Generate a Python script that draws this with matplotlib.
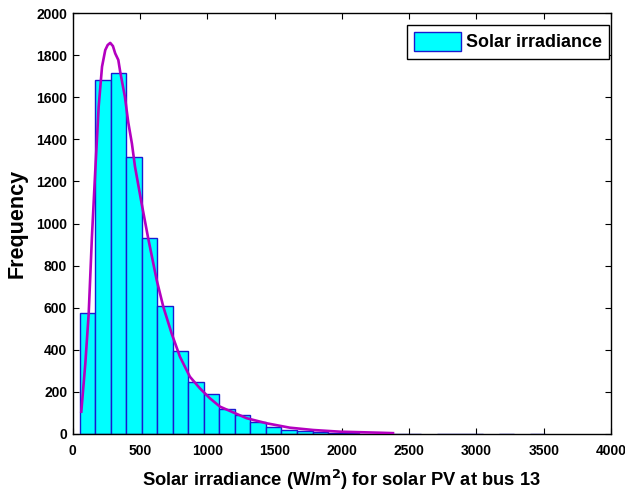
import matplotlib.pyplot as plt
import numpy as np

# histogram of hourly irradiance samples: 30 equal bins over the sample range
bin_lo, bin_hi = 54.0, 3510.0
counts = [577, 1683, 1715, 1317, 931, 609, 392, 249, 190, 117,
          90, 58, 35, 19, 14, 8, 4, 3, 2, 2,
          1, 1, 0, 1, 1, 1, 0, 1, 0, 1]

# fitted density curve (scaled to counts)
fit_x = [64, 94, 119, 143, 168, 193, 218, 242, 260, 279, 299, 316, 339, 353,
         388, 413, 440, 463, 512, 561, 624, 673, 735, 797, 871, 945, 1019,
         1094, 1292, 1440, 1613, 1786, 1984, 2281, 2380]
fit_y = [106, 336, 573, 937, 1254, 1555, 1745, 1824, 1848, 1858, 1843, 1808,
         1777, 1721, 1602, 1480, 1380, 1270, 1096, 930, 732, 605, 478, 367,
         272, 217, 170, 130, 75, 51, 30, 19, 11, 6, 4]

xticks = np.arange(0, 4001, 500)
yticks = np.arange(0, 2001, 200)

font = ["Liberation Sans", "DejaVu Sans"]

fig = plt.figure(figsize=(6.25, 4.93), dpi=100)
ax = fig.add_axes([0.1163, 0.1197, 0.8613, 0.8539])

edges = np.linspace(bin_lo, bin_hi, len(counts) + 1)
width = edges[1] - edges[0]
counts = np.asarray(counts)
keep = counts > 0
ax.bar(edges[:-1][keep], counts[keep], width=width, align="edge",
       color="#00ffff", edgecolor="#1a1ad0", linewidth=1.0,
       label="Solar irradiance", zorder=2)
ax.plot(fit_x, fit_y, color="#b400c0", linewidth=1.9, zorder=3)

ax.set_xlim(0, 4000)
ax.set_ylim(0, 2000)
ax.set_xticks(xticks)
ax.set_yticks(yticks)
ax.tick_params(direction="in", length=4, width=0.8, top=True, right=True,
               labelsize=10, pad=4)
ax.tick_params(axis="x", pad=7)
for lab in ax.get_xticklabels() + ax.get_yticklabels():
    lab.set_family(font)
    lab.set_fontweight("bold")
for sp in ax.spines.values():
    sp.set_linewidth(1.0)

ax.set_xlabel("Solar irradiance (W/m$^\\mathbf{2}$) for solar PV at bus 13",
              fontsize=13.2, fontweight="bold", family=font, labelpad=7)
ax.set_ylabel("Frequency", fontsize=15.5, fontweight="bold", family=font,
              labelpad=6)

leg = ax.legend(loc="upper right", bbox_to_anchor=(0.9968, 0.9715),
                borderaxespad=0, fancybox=False, framealpha=1,
                edgecolor="black", handlelength=2.6, handleheight=1.2,
                handletextpad=0.3, borderpad=0.4,
                prop={"family": font, "weight": "bold", "size": 12.9})
leg.get_frame().set_linewidth(1.0)

fig.savefig("out.png", dpi=100)
